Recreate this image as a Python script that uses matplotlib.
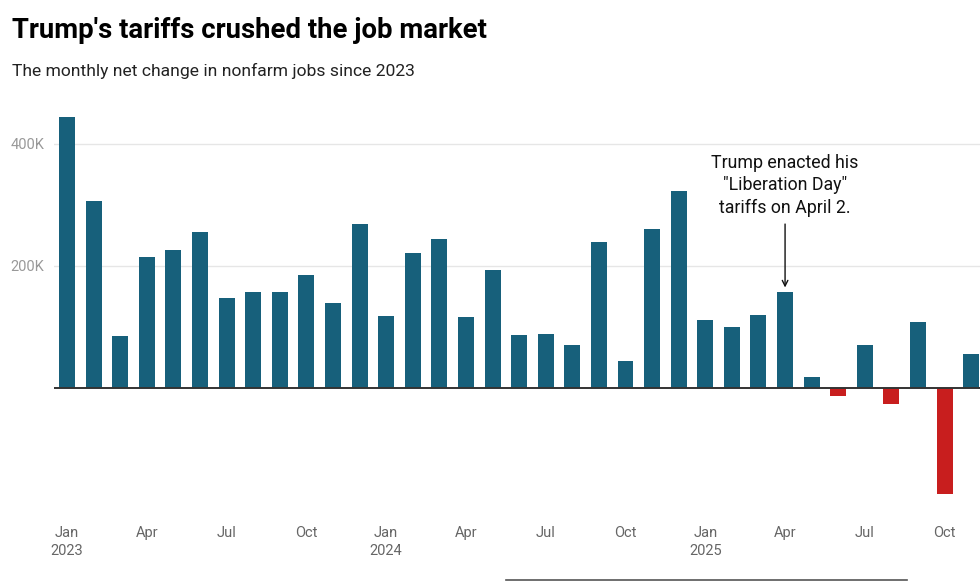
import numpy as np
import matplotlib
matplotlib.use("Agg")
import matplotlib.pyplot as plt

# monthly net change in nonfarm jobs, thousands (Jan 2023 - Nov 2025)
months = ['Jan', 'Feb', 'Mar', 'Apr', 'May', 'Jun', 'Jul', 'Aug', 'Sep', 'Oct', 'Nov', 'Dec']
years = [2023, 2024, 2025]
jobs_k = [
    443, 305, 84, 214, 226, 255, 146, 156, 157, 185, 139, 268,   # 2023
    117, 220, 244, 116, 192, 86, 87, 69, 239, 43, 260, 322,      # 2024
    110, 100, 119, 157, 18, -14, 70, -27, 107, -174, 55,         # 2025
]
yticks = [0, 200, 400]
annot_text = 'Trump enacted his\n"Liberation Day"\ntariffs on April 2.'
annot_month = 27  # Apr 2025

plt.rcParams['font.family'] = ['Roboto', 'DejaVu Sans']

blue = '#17607b'
red = '#c81e1e'

fig = plt.figure(figsize=(9.8, 5.81), dpi=100)
ax = fig.add_axes([54 / 980, 66 / 581, 926 / 980, 405 / 581])

x = np.arange(len(jobs_k))
vals = np.array(jobs_k)
colors = [blue if v >= 0 else red for v in vals]
ax.bar(x, vals, width=0.6, color=colors, zorder=3)

ax.set_xlim(-0.49, 34.33)
ax.set_ylim(-209, 455)

# grid + zero line
for t in yticks[1:]:
    ax.axhline(t, color='#e6e6e6', lw=1.0, zorder=1)
ax.axhline(0, color='#333333', lw=1.4, zorder=4)

ax.set_yticks(yticks[1:])
ax.set_yticklabels([f'{t}K' for t in yticks[1:]], color='#999999', fontsize=10.5)
ax.tick_params(axis='y', length=0, pad=7)

# quarterly x ticks
tick_pos = list(range(0, len(jobs_k), 3))
tick_lab = []
for p in tick_pos:
    m = months[p % 12]
    if p % 12 == 0:
        tick_lab.append(f'{m}\n{years[p // 12]}')
    else:
        tick_lab.append(m)
ax.set_xticks(tick_pos)
ax.set_xticklabels(tick_lab, color='#666666', fontsize=10.5, va='top', linespacing=1.35)
ax.tick_params(axis='x', length=0, pad=8)

for s in ax.spines.values():
    s.set_visible(False)

# annotation
ax.annotate('', xy=(annot_month, jobs_k[annot_month] + 7), xytext=(annot_month, 268),
            arrowprops=dict(arrowstyle='->', color='#111111', lw=1.0,
                            shrinkA=0, shrinkB=0), zorder=5)
ax.text(annot_month, 280, annot_text, ha='center', va='bottom', fontsize=12.8,
        color='#111111', linespacing=1.32, zorder=5)

fig.text(12 / 980, 1 - 31 / 581, "Trump's tariffs crushed the job market",
         fontsize=19.8, fontweight='bold', color='#000000', va='center', ha='left')
fig.text(12 / 980, 1 - 71 / 581, 'The monthly net change in nonfarm jobs since 2023',
         fontsize=12.6, color='#222222', va='center', ha='left')

# thin rule at the bottom edge
fig.add_artist(plt.Line2D([506 / 980, 907 / 980], [1 - 580 / 581] * 2,
                          color='#555555', lw=1.2))

fig.savefig('out.png', dpi=100, facecolor='white')
